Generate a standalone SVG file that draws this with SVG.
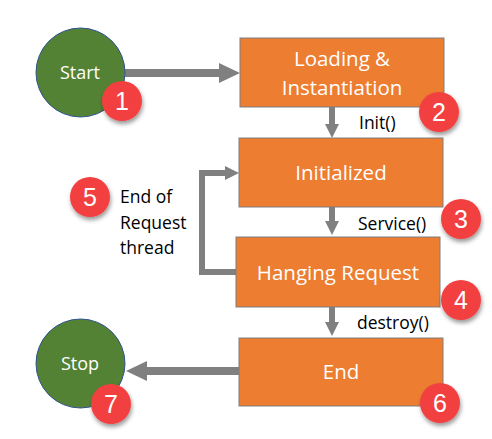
<svg xmlns="http://www.w3.org/2000/svg" width="492" height="439" viewBox="0 0 492 439">
<style>
.box{fill:#ED7D31;stroke:#7F7F7F;stroke-width:1}
.circ{fill:#548235;stroke:#2F528F;stroke-width:1}
.wt{font-family:"Open Sans","Noto Sans",sans-serif;font-size:20.5px;fill:#fff;text-anchor:middle}
.sm{font-size:18px}
.lbl{font-family:"Open Sans","Noto Sans",sans-serif;font-size:17.5px;fill:#000}
.badge{fill:#F24141}
.num{font-family:"Liberation Sans",Arial,sans-serif;font-size:25px;fill:#fff;text-anchor:middle}
.ln{stroke:#808080;fill:none}
</style>
<defs>
<filter id="sh" x="-50%" y="-50%" width="200%" height="200%">
<feDropShadow dx="1" dy="3" stdDeviation="2" flood-color="#000" flood-opacity="0.4"/>
</filter>
</defs>
<g id="connectors">
<line class="ln" x1="125" y1="73" x2="222" y2="73" stroke-width="8"/>
<path d="M219,63 L240,73 L219,83 Z" fill="#808080"/>
<line class="ln" x1="332" y1="107" x2="332" y2="126" stroke-width="6"/>
<path d="M325,124 L332,138 L339,124 Z" fill="#808080"/>
<line class="ln" x1="332" y1="207" x2="332" y2="223" stroke-width="6"/>
<path d="M325,221 L332,235 L339,221 Z" fill="#808080"/>
<line class="ln" x1="332" y1="307" x2="332" y2="324" stroke-width="6"/>
<path d="M325,322 L332,336 L339,322 Z" fill="#808080"/>
<path class="ln" d="M236,272 L202,272 L202,173 L226,173" stroke-width="6"/>
<path d="M225,166 L239,173 L225,180 Z" fill="#808080"/>
<line class="ln" x1="239" y1="371" x2="144" y2="371" stroke-width="8"/>
<path d="M147,361 L126,371 L147,381 Z" fill="#808080"/>
</g>
<g id="start">
<circle class="circ" cx="80.5" cy="72.5" r="44.5"/>
<text class="wt sm" x="80" y="79">Start</text>
</g>
<g id="loading">
<rect class="box" x="240" y="38" width="204" height="69"/>
<text class="wt" x="342" y="66">Loading &amp;</text>
<text class="wt" x="342" y="95">Instantiation</text>
</g>
<g id="initialized">
<rect class="box" x="239" y="138" width="204" height="69"/>
<text class="wt" x="341" y="180">Initialized</text>
</g>
<g id="hanging">
<rect class="box" x="236" y="237" width="204" height="70"/>
<text class="wt" x="338" y="280">Hanging Request</text>
</g>
<g id="end">
<rect class="box" x="239" y="338" width="204" height="68"/>
<text class="wt" x="341" y="379">End</text>
</g>
<g id="stop">
<circle class="circ" cx="80.5" cy="363.5" r="44.5"/>
<text class="wt sm" x="80" y="370">Stop</text>
</g>
<g id="labels">
<text class="lbl" x="359" y="129">Init()</text>
<text class="lbl" x="358" y="230">Service()</text>
<text class="lbl" x="357" y="329">destroy()</text>
<text class="lbl" x="120" y="203">End of</text>
<text class="lbl" x="120" y="229">Request</text>
<text class="lbl" x="120" y="254">thread</text>
</g>
<g id="badge1"><circle class="badge" cx="122" cy="101" r="20" filter="url(#sh)"/><text class="num" x="122" y="110">1</text></g>
<g id="badge2"><circle class="badge" cx="439" cy="112" r="20" filter="url(#sh)"/><text class="num" x="439" y="121">2</text></g>
<g id="badge3"><circle class="badge" cx="461" cy="219" r="20" filter="url(#sh)"/><text class="num" x="461" y="228">3</text></g>
<g id="badge4"><circle class="badge" cx="461" cy="300" r="20" filter="url(#sh)"/><text class="num" x="461" y="309">4</text></g>
<g id="badge5"><circle class="badge" cx="90" cy="197" r="20" filter="url(#sh)"/><text class="num" x="90" y="206">5</text></g>
<g id="badge6"><circle class="badge" cx="440" cy="403" r="20" filter="url(#sh)"/><text class="num" x="440" y="412">6</text></g>
<g id="badge7"><circle class="badge" cx="111" cy="404" r="20" filter="url(#sh)"/><text class="num" x="111" y="413">7</text></g>
</svg>
